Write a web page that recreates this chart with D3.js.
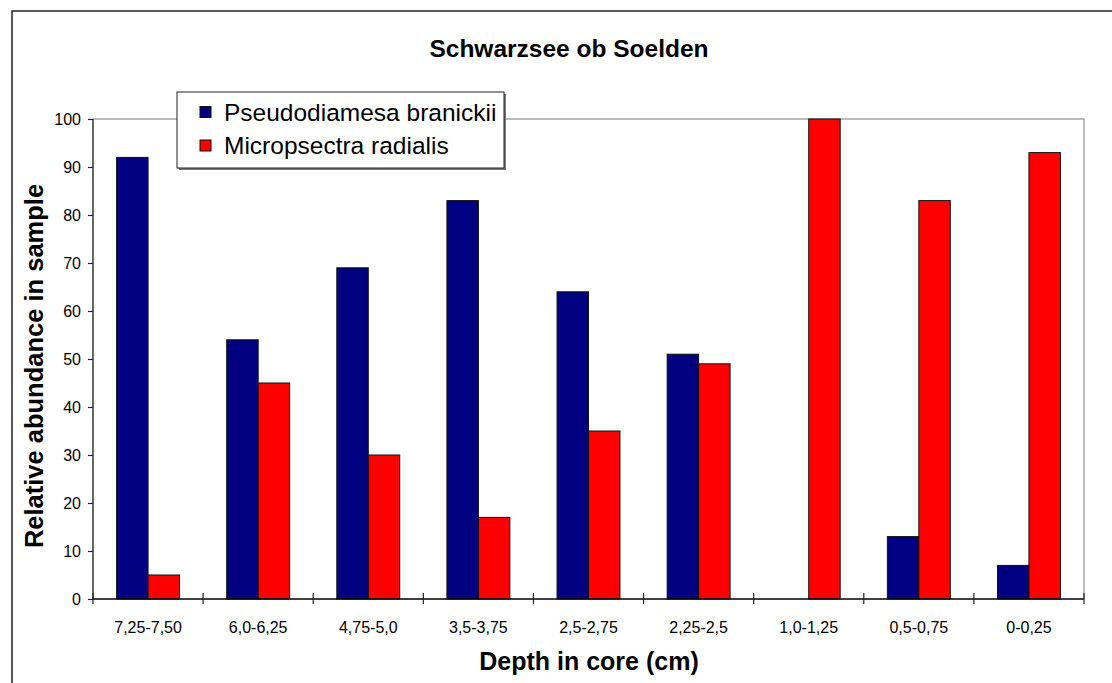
<!DOCTYPE html>
<html>
<head>
<meta charset="utf-8">
<script src="https://cdn.jsdelivr.net/npm/d3@7"></script>
<style>
  html, body { margin: 0; padding: 0; background: #fff; }
  svg { display: block; font-family: "Liberation Sans", Arial, sans-serif; }
</style>
</head>
<body>
<svg id="chart" width="1112" height="683"></svg>
<script>
const categories = ["7,25-7,50", "6,0-6,25", "4,75-5,0", "3,5-3,75", "2,5-2,75", "2,25-2,5", "1,0-1,25", "0,5-0,75", "0-0,25"];
const seriesNames = ["Pseudodiamesa branickii", "Micropsectra radialis"];
const pseudodiamesa = [92, 54, 69, 83, 64, 51, 0, 13, 7];
const micropsectra = [5, 45, 30, 17, 35, 49, 100, 83, 93];
const yTicks = [0, 10, 20, 30, 40, 50, 60, 70, 80, 90, 100];
const colors = ["#000080", "#ff0000"];

const svg = d3.select("#chart");
const W = 1112, H = 683;
const plot = { left: 93, top: 119, right: 1084, bottom: 599 };

// outer chart border (extends beyond visible right/bottom)
svg.append("rect").attr("x", 12).attr("y", 11).attr("width", W + 20).attr("height", H + 20)
  .attr("fill", "#fff").attr("stroke", "#222").attr("stroke-width", 1.5);

const x = d3.scaleBand().domain(categories).range([plot.left, plot.right]).padding(0);
const bw = x.bandwidth();
const x1 = d3.scaleBand().domain(seriesNames).range([bw * 0.75 / 3.5, bw * 2.75 / 3.5]).padding(0);
const y = d3.scaleLinear().domain([0, 100]).range([plot.bottom, plot.top]);

// plot area frame (top & right gray)
svg.append("path")
  .attr("d", `M${plot.left},${plot.top}H${plot.right}V${plot.bottom}`)
  .attr("fill", "none").attr("stroke", "#a6a6a6").attr("stroke-width", 1.5);

const data = categories.map((c, i) => ({ cat: c, vals: [pseudodiamesa[i], micropsectra[i]] }));

const groups = svg.append("g").selectAll("g").data(data).join("g")
  .attr("transform", d => `translate(${x(d.cat)},0)`);
groups.selectAll("rect").data(d => d.vals.map((v, j) => ({ v, s: seriesNames[j], j })))
  .join("rect")
  .filter(d => d.v > 0)
  .attr("x", d => x1(d.s))
  .attr("y", d => y(d.v))
  .attr("width", x1.bandwidth())
  .attr("height", d => y(0) - y(d.v))
  .attr("fill", d => colors[d.j])
  .attr("stroke", "#111").attr("stroke-width", 1);

// Y axis
const yAxis = svg.append("g").attr("transform", `translate(${plot.left},0)`)
  .call(d3.axisLeft(y).tickValues(yTicks).tickSize(5).tickPadding(7).tickFormat(d3.format("d")));
yAxis.select(".domain").attr("stroke", "#333").attr("stroke-width", 1.5).attr("d", `M0,${plot.top}V${plot.bottom}`);
yAxis.selectAll(".tick line").attr("stroke", "#222").attr("stroke-width", 1.2);
yAxis.selectAll("text").attr("font-size", 16).attr("fill", "#000")
  .style("font-family", "'Liberation Sans', Arial, sans-serif");

// X axis
const xTickPos = categories.map(c => x(c)).concat([plot.right]);
const xAxis = svg.append("g").attr("transform", `translate(0,${plot.bottom})`)
  .call(d3.axisBottom(x).tickSize(0).tickPadding(23));
xAxis.select(".domain").attr("stroke", "#000").attr("stroke-width", 1.5).attr("d", `M${plot.left},0H${plot.right}`);
xAxis.selectAll("text").attr("font-size", 16).attr("fill", "#000")
  .style("font-family", "'Liberation Sans', Arial, sans-serif");
xAxis.selectAll(".xt").data(xTickPos).join("line").attr("class", "xt")
  .attr("x1", d => d).attr("x2", d => d).attr("y1", -6).attr("y2", 5)
  .attr("stroke", "#222").attr("stroke-width", 1.2);

// Title
svg.append("text").attr("x", 569).attr("y", 57).attr("text-anchor", "middle")
  .attr("font-size", 24.5).attr("font-weight", "bold").text("Schwarzsee ob Soelden");

// Axis titles
svg.append("text").attr("x", 589).attr("y", 670).attr("text-anchor", "middle")
  .attr("font-size", 25).attr("font-weight", "bold").text("Depth in core (cm)");
svg.append("text").attr("transform", "translate(43,366) rotate(-90)").attr("text-anchor", "middle")
  .attr("font-size", 25.5).attr("font-weight", "bold").text("Relative abundance in sample");

// Legend
const lg = svg.append("g").attr("transform", "translate(177,92)");
lg.append("rect").attr("x", 2).attr("y", 2).attr("width", 327).attr("height", 76).attr("fill", "#777");
lg.append("rect").attr("x", 0).attr("y", 0).attr("width", 327).attr("height", 76)
  .attr("fill", "#fff").attr("stroke", "#222").attr("stroke-width", 1);
const items = lg.selectAll("g.item").data(seriesNames).join("g").attr("class", "item")
  .attr("transform", (d, i) => `translate(0,${20 + i * 33.5})`);
items.append("rect").attr("x", 23).attr("y", -5.5).attr("width", 11).attr("height", 11)
  .attr("fill", (d, i) => colors[i]).attr("stroke", "#111").attr("stroke-width", 1);
items.append("text").attr("x", 47).attr("y", 8.5).attr("font-size", 24.5).text(d => d);
</script>
</body>
</html>
